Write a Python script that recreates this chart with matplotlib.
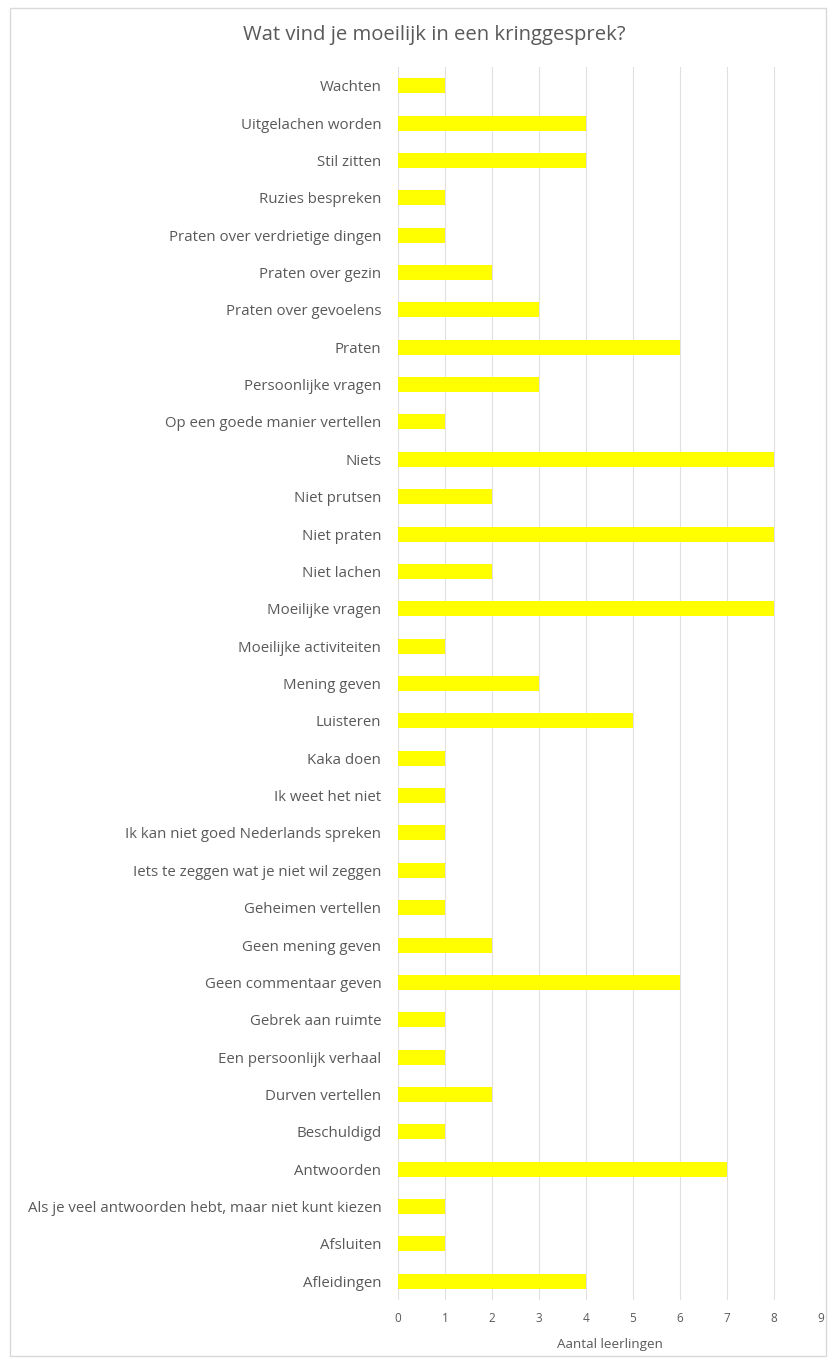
import matplotlib
matplotlib.use("Agg")
import matplotlib.pyplot as plt
from matplotlib.patches import Rectangle

categories = [
    "Wachten", "Uitgelachen worden", "Stil zitten", "Ruzies bespreken",
    "Praten over verdrietige dingen", "Praten over gezin", "Praten over gevoelens",
    "Praten", "Persoonlijke vragen", "Op een goede manier vertellen", "Niets",
    "Niet prutsen", "Niet praten", "Niet lachen", "Moeilijke vragen",
    "Moeilijke activiteiten", "Mening geven", "Luisteren", "Kaka doen",
    "Ik weet het niet", "Ik kan niet goed Nederlands spreken",
    "Iets te zeggen wat je niet wil zeggen", "Geheimen vertellen",
    "Geen mening geven", "Geen commentaar geven", "Gebrek aan ruimte",
    "Een persoonlijk verhaal", "Durven vertellen", "Beschuldigd", "Antwoorden",
    "Als je veel antwoorden hebt, maar niet kunt kiezen", "Afsluiten", "Afleidingen",
]
values = [1, 4, 4, 1, 1, 2, 3, 6, 3, 1, 8, 2, 8, 2, 8, 1, 3, 5, 1, 1, 1, 1, 1,
          2, 6, 1, 1, 2, 1, 7, 1, 1, 4]
xticks = list(range(10))

plt.rcParams["font.family"] = ["Open Sans", "DejaVu Sans"]
text_color = "#595959"

fig = plt.figure(figsize=(8.29, 13.62), dpi=100)
fig.patches.append(Rectangle((10 / 829, 1 - 1356 / 1362), 816 / 829, 1348 / 1362,
                             transform=fig.transFigure, fill=False,
                             edgecolor="#d9d9d9", linewidth=1))
ax = fig.add_axes([398 / 829, 1 - 1300 / 1362, 423 / 829, 1233 / 1362])

y = list(range(len(categories)))
ax.barh(y, values, height=0.4, color="#ffff00", zorder=3)
ax.set_yticks(y)
ax.set_yticklabels(categories, fontsize=10.8, color=text_color)
ax.set_ylim(len(categories) - 0.5, -0.5)
ax.set_xlim(0, 9)
ax.set_xticks(xticks)
ax.set_xticklabels([str(t) for t in xticks], fontsize=8.5, color=text_color)
ax.grid(axis="x", color="#e0e0e0", linewidth=0.8, zorder=0)
for s in ax.spines.values():
    s.set_visible(False)
ax.tick_params(length=0, pad=12)
ax.tick_params(axis="x", pad=9)
ax.set_xlabel("Aantal leerlingen", fontsize=9.7, color=text_color, labelpad=9)
fig.text(434 / 829, 1 - 35 / 1362, "Wat vind je moeilijk in een kringgesprek?",
         fontsize=14.6, color=text_color, ha="center", va="center")

fig.savefig("out.png", dpi=100, facecolor="white")
